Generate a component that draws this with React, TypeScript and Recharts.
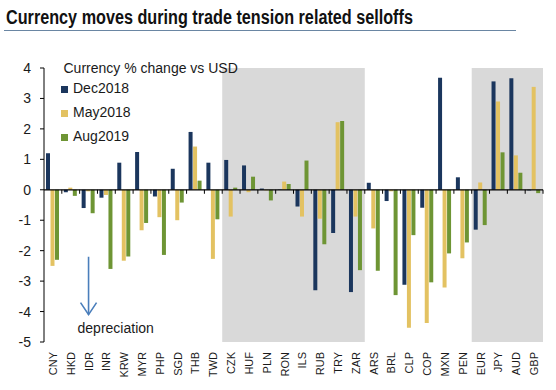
import React from 'react';
import { BarChart, Bar, XAxis, YAxis, ReferenceArea, ReferenceLine, Legend } from 'recharts';

const currencies = ['CNY','HKD','IDR','INR','KRW','MYR','PHP','SGD','THB','TWD','CZK','HUF','PLN','RON','ILS','RUB','TRY','ZAR','ARS','BRL','CLP','COP','MXN','PEN','EUR','JPY','AUD','GBP'];
const dec2018 = [1.2,-0.08,-0.6,-0.26,0.89,1.24,-0.22,0.69,1.9,0.89,0.98,0.8,0.04,0.01,-0.55,-3.3,-1.42,-3.36,0.23,-0.37,-3.12,-0.59,3.68,0.41,-1.31,3.56,3.66,-0.02];
const may2018 = [-2.5,0.07,-0.05,-0.17,-2.33,-1.33,-0.9,-1.0,1.42,-2.27,-0.88,-0.08,-0.02,0.27,-0.88,-0.95,2.22,-0.88,-1.27,-0.05,-4.53,-4.38,-3.21,-2.25,0.24,2.9,1.13,3.38];
const aug2019 = [-2.3,-0.2,-0.77,-2.6,-2.19,-1.09,-2.14,-0.42,0.3,-0.97,0.07,0.43,-0.35,0.19,0.96,-1.79,2.26,-2.64,-2.66,-3.46,-1.49,-3.04,-2.09,-1.73,-1.16,1.23,0.56,-0.11];
const yTicks = [-5,-4,-3,-2,-1,0,1,2,3,4];
const seriesNames = ['Dec2018','May2018','Aug2019'];
const shadedRanges = [['CZK','ZAR'],['EUR','GBP']];

const data = currencies.map((c, i) => ({ cur: c, dec: dec2018[i], may: may2018[i], aug: aug2019[i] }));

const FONT = "'Liberation Sans', Arial, sans-serif";
const NAVY = '#1b365d';
const GOLD = '#e3c262';
const GREEN = '#6e9534';

const XTick = (props: any) => {
  const { x, y, payload } = props;
  return (
    <g transform={`translate(${x},${y + 2}) rotate(-90)`}>
      <text x={0} y={0} dy="0.36em" textAnchor="end" fontSize={11} fontFamily={FONT} fill="#1a1a1a">
        {payload.value}
      </text>
    </g>
  );
};

const ZeroLine = (props: any) => {
  const { x1, y1, x2, y2 } = props;
  const n = currencies.length;
  const step = (x2 - x1) / n;
  const ticks = [];
  for (let i = 1; i <= n; i++) {
    const tx = x1 + step * i;
    ticks.push(<line key={i} x1={tx} x2={tx} y1={y1} y2={y1 + 4} stroke="#000" strokeWidth={1} />);
  }
  return (
    <g>
      <line x1={x1} y1={y1} x2={x2} y2={y2} stroke="#000" strokeWidth={1.2} />
      {ticks}
    </g>
  );
};

const Arrow = (props: any) => {
  const { x1, y1, x2, y2 } = props;
  return (
    <g>
      <line x1={x1} y1={y1} x2={x2} y2={y2} stroke="#4a7ebb" strokeWidth={1.6} />
      <polyline points={`${x2 - 8},${y2 - 12} ${x2},${y2} ${x2 + 8},${y2 - 12}`} fill="none" stroke="#4a7ebb" strokeWidth={1.6} />
      <text x={x2 - 11} y={y2 + 18} fontSize={14} fontFamily={FONT} fill="#1a1a1a">depreciation</text>
    </g>
  );
};

const LegendContent = (props: any) => {
  const items = [...(props.payload || [])].sort(
    (a: any, b: any) => seriesNames.indexOf(a.value) - seriesNames.indexOf(b.value)
  );
  return (
    <div style={{ fontFamily: FONT, fontSize: 14, color: '#1a1a1a' }}>
      <div style={{ lineHeight: '16px', height: 16, paddingLeft: 2.5, whiteSpace: 'nowrap' }}>Currency % change vs USD</div>
      {items.map((p: any) => (
        <div key={p.value} style={{ display: 'flex', alignItems: 'center', height: 24, lineHeight: '24px' }}>
          <span style={{ display: 'inline-block', width: 7, height: 7, background: p.color, marginRight: 5, marginTop: 2 }} />
          <span>{p.value}</span>
        </div>
      ))}
    </div>
  );
};

export default function App() {
  return (
    <div style={{ position: 'absolute', left: 0, top: 0, width: 556, height: 390, background: '#fff', overflow: 'hidden' }}>
      <div style={{ position: 'absolute', left: 6, top: 7, fontFamily: FONT, fontSize: 20, fontWeight: 'bold', lineHeight: '20px', whiteSpace: 'nowrap', transform: 'scaleX(0.81)', transformOrigin: 'left top', color: '#111' }}>
        Currency moves during trade tension related selloffs
      </div>
      <div style={{ position: 'absolute', left: 4, top: 30, width: 512, height: 1, background: '#6a86a3' }} />
      <div style={{ position: 'absolute', left: 0, top: 0 }}>
        <BarChart width={556} height={390} data={data} margin={{ top: 68, right: 13, bottom: 0, left: 0 }} barSize={4} barGap={0.5}>
          {shadedRanges.map(([a, b]) => (
            <ReferenceArea key={a} x1={a} x2={b} y1={-5} y2={4} fill="#d9d9d9" fillOpacity={1} stroke="none" />
          ))}
          <XAxis dataKey="cur" interval={0} axisLine={false} tickLine={false} tick={<XTick />} height={48} />
          <YAxis domain={[-5, 4]} ticks={yTicks} width={44} interval={0} tickSize={4} tickMargin={9}
            axisLine={{ stroke: '#000' }} tickLine={{ stroke: '#000' }}
            tick={{ fontSize: 14, fill: '#1a1a1a', fontFamily: FONT }} />
          <Legend layout="vertical" align="center" verticalAlign="middle" content={<LegendContent />}
            wrapperStyle={{ left: 61, top: 60, width: 200, height: 90 }} />
          <Bar dataKey="dec" name={seriesNames[0]} fill={NAVY} isAnimationActive={false} />
          <Bar dataKey="may" name={seriesNames[1]} fill={GOLD} isAnimationActive={false} />
          <Bar dataKey="aug" name={seriesNames[2]} fill={GREEN} isAnimationActive={false} />
          <ReferenceLine y={0} shape={<ZeroLine />} />
          <ReferenceLine segment={[{ x: 'IDR', y: -2.2 }, { x: 'IDR', y: -4.1 }]} shape={<Arrow />} />
        </BarChart>
      </div>
    </div>
  );
}
